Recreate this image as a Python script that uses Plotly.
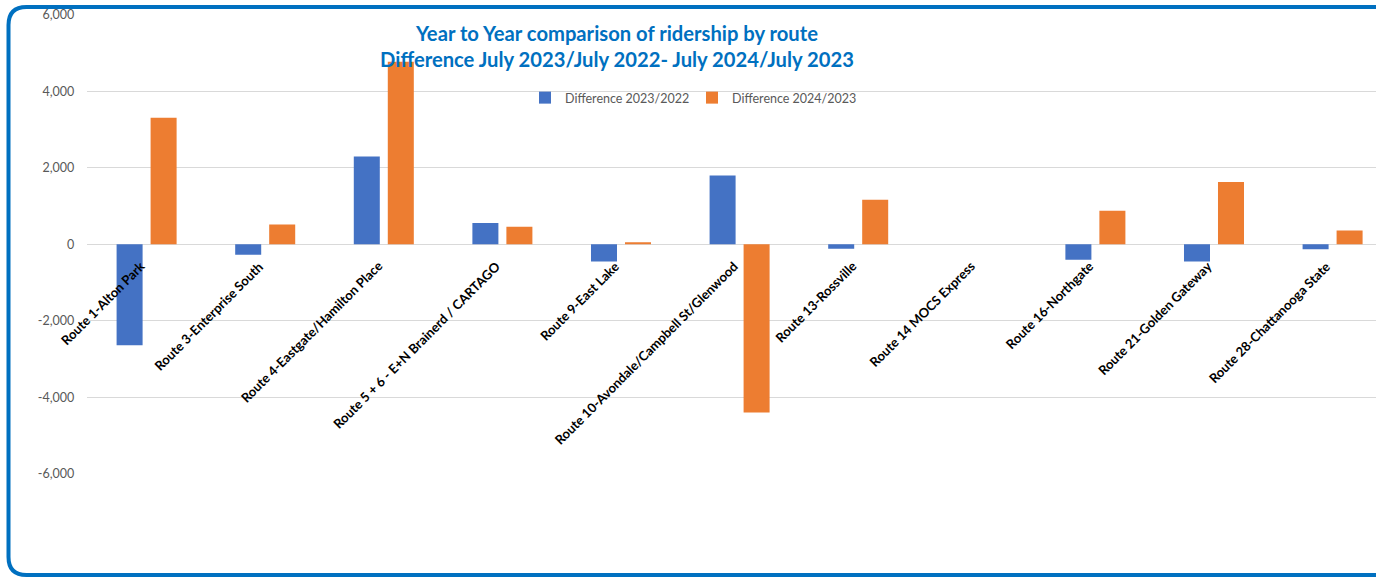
import plotly.graph_objects as go

# ---- data ----
categories = [
    "Route 1-Alton Park",
    "Route 3-Enterprise South",
    "Route 4-Eastgate/Hamilton Place",
    "Route 5 + 6 - E+N Brainerd / CARTAGO",
    "Route 9-East Lake",
    "Route 10-Avondale/Campbell St/Glenwood",
    "Route 13-Rossville",
    "Route 14 MOCS Express",
    "Route 16-Northgate",
    "Route 21-Golden Gateway",
    "Route 28-Chattanooga State",
]
diff_2023_2022 = [-2640, -270, 2300, 560, -450, 1800, -115, 0, -400, -450, -130]
diff_2024_2023 = [3310, 520, 4780, 460, 55, -4400, 1170, 0, 880, 1630, 360]
series_names = ["Difference 2023/2022", "Difference 2024/2023"]
y_tick_vals = [-6000, -4000, -2000, 0, 2000, 4000, 6000]
y_tick_text = ["-6,000", "-4,000", "-2,000", "0", "2,000", "4,000", "6,000"]
title_lines = ["Year to Year comparison of ridership by route",
               "Difference July 2023/July 2022- July 2024/July 2023"]

# ---- layout helpers (pixel -> paper) ----
W, H = 1376, 577
def px(x):
    return x / W
def py(y):
    return 1 - y / H

BLUE = "#4472C4"
ORANGE = "#ED7D31"
FRAME = "#0070C0"

fig = go.Figure()
fig.add_trace(go.Bar(x=categories, y=diff_2023_2022, name=series_names[0],
                     marker=dict(color=BLUE, line=dict(width=0))))
fig.add_trace(go.Bar(x=categories, y=diff_2024_2023, name=series_names[1],
                     marker=dict(color=ORANGE, line=dict(width=0))))

annotations = []
for c in categories:
    annotations.append(dict(
        x=c, y=0, xref="x", yref="y", text=c, showarrow=False,
        textangle=-45, xanchor="right", yanchor="top",
        xshift=4, yshift=-11,
        font=dict(family="Lato", size=13, color="#000000", weight="bold"),
    ))

# rounded frame (left, top, bottom visible; right edge beyond the view)
L, T, B, R, r = 8.5, 7, 575, 1420, 18
frame_path = (
    f"M {px(R)},{py(T)} L {px(L + r)},{py(T)} "
    f"Q {px(L)},{py(T)} {px(L)},{py(T + r)} "
    f"L {px(L)},{py(B - r)} "
    f"Q {px(L)},{py(B)} {px(L + r)},{py(B)} "
    f"L {px(R)},{py(B)}"
)

fig.update_layout(
    width=W, height=H, autosize=False,
    margin=dict(l=0, r=0, t=0, b=0, pad=0),
    paper_bgcolor="white", plot_bgcolor="white",
    template="none",
    barmode="group", bargap=0.4266, bargroupgap=0.235,
    font=dict(family="Lato", color="#595959"),
    title=dict(
        text="<br>".join(title_lines),
        x=px(617), xanchor="center", xref="paper",
        y=py(41), yanchor="middle", yref="container",
        font=dict(family="Lato", size=20.2, color=FRAME, weight="bold"),
    ),
    legend=dict(
        orientation="h", x=px(525), xanchor="left", y=py(98), yanchor="middle",
        font=dict(family="Lato", size=12.5, color="#595959"),
        bgcolor="rgba(0,0,0,0)", traceorder="normal",
        entrywidth=122, entrywidthmode="pixels",
    ),
    xaxis=dict(
        type="category", domain=[px(87.3), 1], range=[-0.5, 10.366],
        showgrid=False, showticklabels=False, zeroline=False, showline=False,
        ticks="", automargin=False, fixedrange=True,
    ),
    yaxis=dict(
        domain=[py(473.7), py(15)], range=[-6000, 6000],
        tickvals=y_tick_vals, ticktext=y_tick_text,
        showgrid=True, gridcolor="#D9D9D9", gridwidth=1,
        zeroline=False, showline=False, ticks="",
        tickfont=dict(family="Lato", size=12.5, color="#595959"),
        ticklabelstandoff=12, automargin=False, fixedrange=True,
    ),
    annotations=annotations,
    shapes=[dict(type="path", path=frame_path, xref="paper", yref="paper",
                 line=dict(color=FRAME, width=4), fillcolor="rgba(0,0,0,0)", layer="above")],
)

fig.write_html("out.html")
